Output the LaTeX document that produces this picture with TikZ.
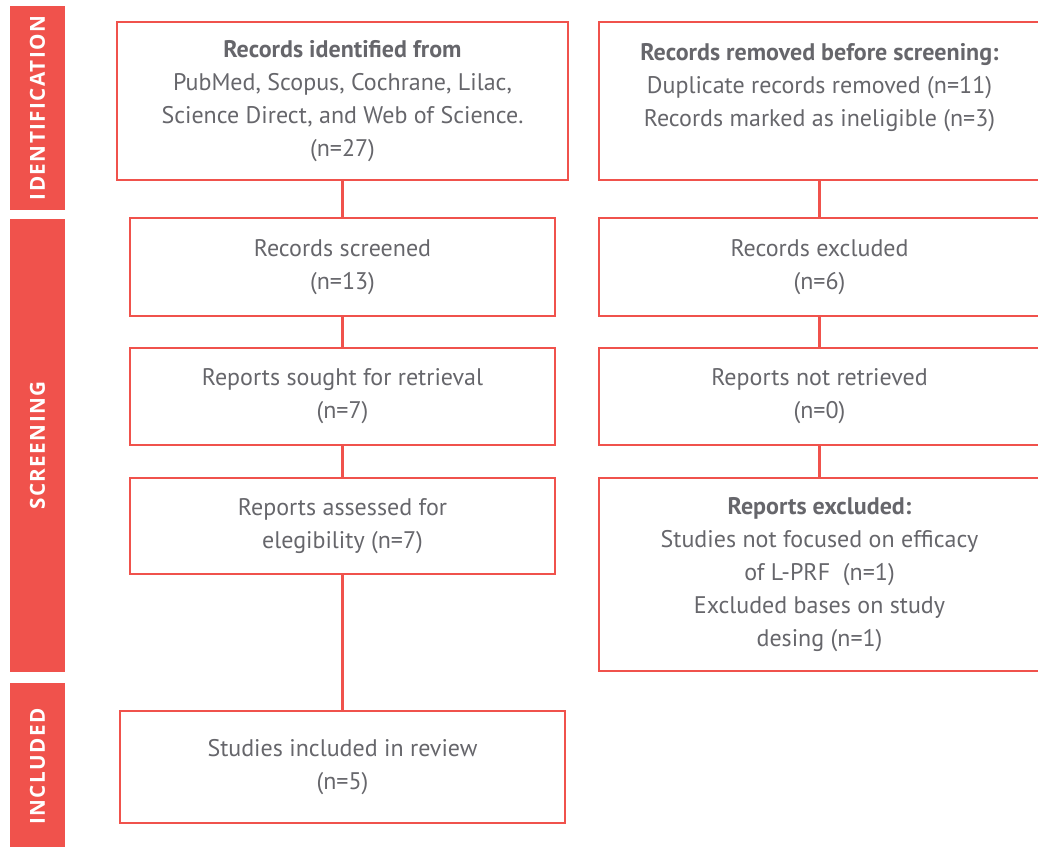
\documentclass[tikz,border=0pt]{standalone}
\usepackage{fontspec}
\setmainfont{PT Sans}
\newfontfamily\phasefont{Open Sans}[LetterSpace=7]
\usepackage{xcolor}
\definecolor{prismared}{HTML}{F0524C}
\definecolor{prismatext}{HTML}{66666B}
\usetikzlibrary{positioning}

\begin{document}
\begin{tikzpicture}[x=0.75pt,y=-0.75pt,
  recbox/.style={draw=prismared,line width=1.8pt,align=center,inner sep=0pt,
    text=prismatext,font=\fontsize{18}{24.75}\selectfont},
  phase/.style={fill=prismared,inner sep=0pt,minimum height=41.25pt,rotate=90,
    text=white,font=\phasefont\bfseries\fontsize{15.5}{15.5}\selectfont},
  flow/.style={draw=prismared,line width=1.8pt}]
\useasboundingbox (0,0) rectangle (1038,846);
\clip (0,0) rectangle (1038,846);

% phase bands
\node[phase,minimum width=153pt] (identification) at (37.5,108) {IDENTIFICATION};
\node[phase,minimum width=339.75pt] (screening) at (37.5,445.5) {SCREENING};
\node[phase,minimum width=125.25pt] (included) at (37.5,766.5) {INCLUDED};

% left column
\node[recbox,minimum width=338.25pt,minimum height=118.5pt] (found) at (342.5,101)
  {\textbf{Records identified from}\\PubMed, Scopus, Cochrane, Lilac,\\Science Direct, and Web of Science.\\(n=27)};
\node[recbox,minimum width=318.75pt,minimum height=73.5pt] (screened) at (342.5,267)
  {Records screened\\(n=13)};
\node[recbox,minimum width=318.75pt,minimum height=72.75pt] (sought) at (342.5,396.5)
  {Reports sought for retrieval\\(n=7)};
\node[recbox,minimum width=318.75pt,minimum height=72pt] (assessed) at (342.5,526)
  {Reports assessed for\\elegibility (n=7)};
\node[recbox,minimum width=333.75pt,minimum height=84pt] (inreview) at (342.5,767)
  {Studies included in review\\(n=5)};

% right column
\node[recbox,minimum width=330.75pt,minimum height=118.5pt] (removed) at (819.5,101)
  {\textbf{Records removed before screening:}\\Duplicate records removed (n=11)\\Records marked as ineligible (n=3)\\\mbox{}};
\node[recbox,minimum width=330.75pt,minimum height=73.5pt] (excluded) at (819.5,267)
  {Records excluded\\(n=6)};
\node[recbox,minimum width=330.75pt,minimum height=72.75pt] (notret) at (819.5,396.5)
  {Reports not retrieved\\(n=0)};
\node[recbox,minimum width=330.75pt,minimum height=144.75pt] (repexcl) at (819.5,574.5)
  {\textbf{Reports excluded:}\\Studies not focused on efficacy\\of L-PRF~ (n=1)\\Excluded bases on study\\desing (n=1)};

% connectors
\draw[flow] (found) -- (screened);
\draw[flow] (screened) -- (sought);
\draw[flow] (sought) -- (assessed);
\draw[flow] (assessed) -- (inreview);
\draw[flow] (removed) -- (excluded);
\draw[flow] (excluded) -- (notret);
\draw[flow] (notret) -- (repexcl);
\end{tikzpicture}
\end{document}
